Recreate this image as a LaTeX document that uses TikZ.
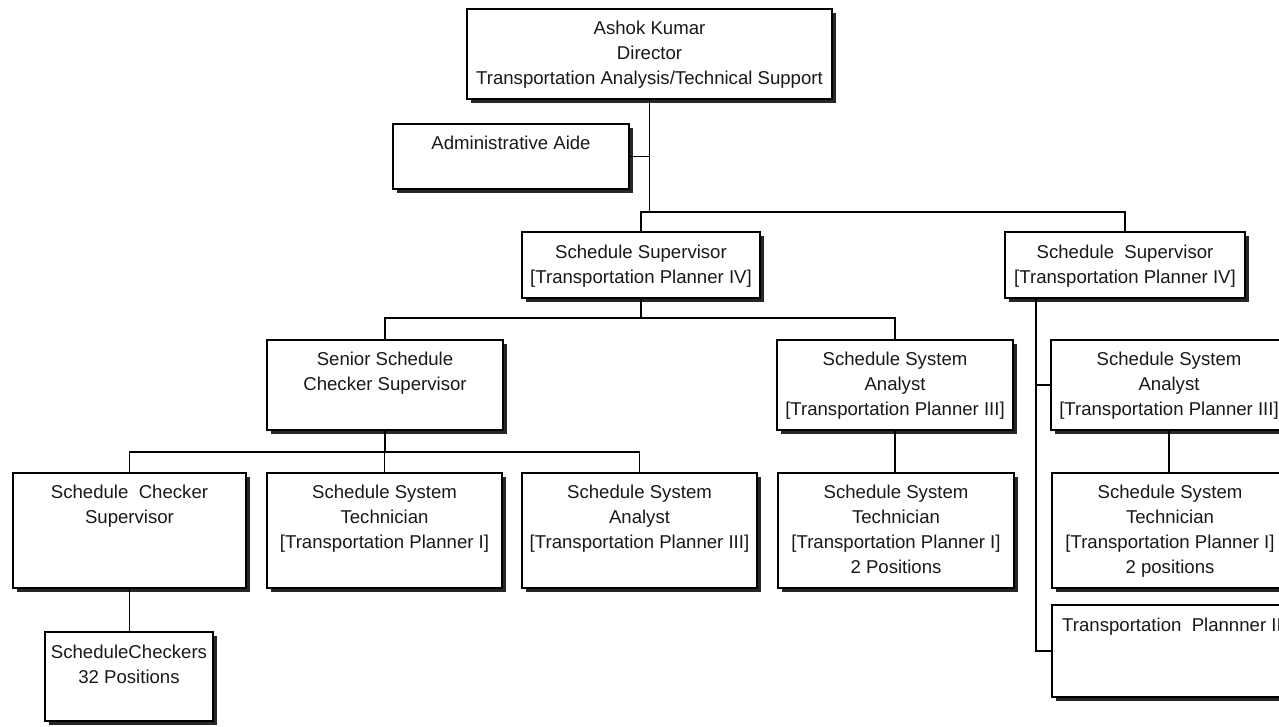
\documentclass[tikz,border=0pt]{standalone}
\usepackage{fontspec}
\setmainfont{Liberation Sans}
\usetikzlibrary{shadows}
\tikzset{
  box/.style={draw=black, line width=1.3pt, fill=white, rectangle, inner sep=0pt, outer sep=0pt, anchor=north west,
    drop shadow={shadow xshift=4pt, shadow yshift=-4pt, fill=black!85, opacity=1}},
  txt/.style={font=\fontsize{18.6}{25}\selectfont, align=center, inner sep=0pt, anchor=north, text=black!90},
  conn/.style={draw=black, line width=1.3pt}
}
\begin{document}
\begin{tikzpicture}[x=1pt, y=-1pt]
\useasboundingbox (0,0) rectangle (1279,726);
\clip (0,0) rectangle (1279,726);
% boxes
\node[box, minimum width=365pt, minimum height=90pt] (dir) at (467,9) {};
\node[box, minimum width=236pt, minimum height=65pt] (aide) at (393,124) {};
\node[box, minimum width=238pt, minimum height=66pt] (sup1) at (522,232) {};
\node[box, minimum width=240pt, minimum height=66pt] (sup2) at (1005,232) {};
\node[box, minimum width=236pt, minimum height=90pt] (sen) at (267,340) {};
\node[box, minimum width=236pt, minimum height=90pt] (ana1) at (777,340) {};
\node[box, minimum width=236pt, minimum height=90pt] (ana3) at (1051,340) {};
\node[box, minimum width=233pt, minimum height=115pt] (csup) at (13,473) {};
\node[box, minimum width=235pt, minimum height=115pt] (tech1) at (267,473) {};
\node[box, minimum width=235pt, minimum height=115pt] (ana2) at (522,473) {};
\node[box, minimum width=236pt, minimum height=115pt] (tech2) at (778,473) {};
\node[box, minimum width=236pt, minimum height=115pt] (tech3) at (1052,473) {};
\node[box, minimum width=238pt, minimum height=92pt] (tp) at (1052,605) {};
\node[box, minimum width=168pt, minimum height=89pt] (chk) at (45,632) {};
% texts
\node[txt] (dir-t) at ([yshift=-12pt]dir.north) {Ashok Kumar\\Director\\Transportation Analysis/Technical Support};
\node[txt] (aide-t) at ([yshift=-12pt]aide.north) {Administrative Aide};
\node[txt] (sup1-t) at ([yshift=-13pt]sup1.north) {Schedule Supervisor\\{[}Transportation Planner IV{]}};
\node[txt] (sup2-t) at ([yshift=-13pt]sup2.north) {Schedule\ \ Supervisor\\{[}Transportation Planner IV{]}};
\node[txt] (sen-t) at ([yshift=-12pt]sen.north) {Senior Schedule\\Checker Supervisor};
\node[txt] (ana1-t) at ([yshift=-12pt]ana1.north) {Schedule System\\Analyst\\{[}Transportation Planner III{]}};
\node[txt] (ana3-t) at ([yshift=-12pt]ana3.north) {Schedule System\\Analyst\\{[}Transportation Planner III{]}};
\node[txt] (csup-t) at ([yshift=-12pt]csup.north) {Schedule\ \ Checker\\Supervisor};
\node[txt] (tech1-t) at ([yshift=-12pt]tech1.north) {Schedule System\\Technician\\{[}Transportation Planner I{]}};
\node[txt] (ana2-t) at ([yshift=-12pt]ana2.north) {Schedule System\\Analyst\\{[}Transportation Planner III{]}};
\node[txt] (tech2-t) at ([yshift=-12pt]tech2.north) {Schedule System\\Technician\\{[}Transportation Planner I{]}\\2 Positions};
\node[txt] (tech3-t) at ([yshift=-12pt]tech3.north) {Schedule System\\Technician\\{[}Transportation Planner I{]}\\2 positions};
\node[txt, anchor=north west] (tp-t) at ([xshift=10pt,yshift=-13pt]tp.north west) {Transportation\ \ Plannner II};
\node[txt] (chk-t) at ([yshift=-13pt]chk.north) {ScheduleCheckers\\32 Positions};
% bus coordinates
\coordinate (busA) at (0,212);
\coordinate (busB) at (0,318);
\coordinate (busC) at (0,452);
\coordinate (busR) at (1036,0);
% connectors
\draw[conn] (dir.south) -- (dir.south |- busA);
\draw[conn] (aide.east) -- (aide.east -| dir.south);
\draw[conn] (sup1.north) -- (sup1.north |- busA) -- (sup2.north |- busA) -- (sup2.north);
\draw[conn] (sup1.south) -- (sup1.south |- busB);
\draw[conn] (sen.north) -- (sen.north |- busB) -- (ana1.north |- busB) -- (ana1.north);
\draw[conn] (sen.south) -- (sen.south |- busC);
\draw[conn] (csup.north) -- (csup.north |- busC) -- (ana2.north |- busC) -- (ana2.north);
\draw[conn] (tech1.north) -- (tech1.north |- busC);
\draw[conn] (ana1.south) -- (ana1.south |- tech2.north);
\draw[conn] (csup.south) -- (csup.south |- chk.north);
\draw[conn] (sup2.south -| busR) -- (tp.west -| busR) -- (tp.west);
\draw[conn] (ana3.west -| busR) -- (ana3.west);
\draw[conn] (ana3.south) -- (ana3.south |- tech3.north);
\end{tikzpicture}
\end{document}
